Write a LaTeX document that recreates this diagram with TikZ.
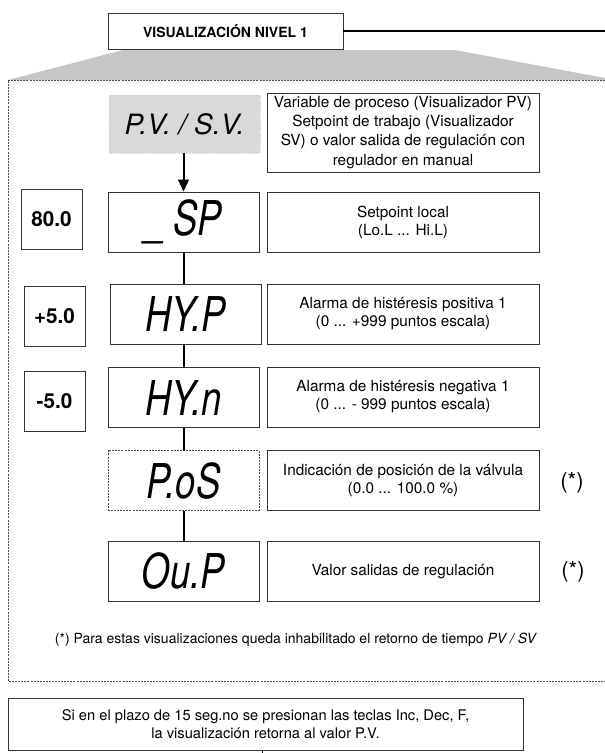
\documentclass[tikz,border=0pt]{standalone}
\usepackage{fontspec}
\setmainfont{TeX Gyre Heros}
\newfontfamily\segfont{TeX Gyre Heros}[FakeStretch=0.76]
\usetikzlibrary{arrows.meta}

\definecolor{grisfondo}{RGB}{198,198,198}
\definecolor{grispv}{RGB}{217,217,217}

\tikzset{
    caja/.style={draw=black!80, line width=0.6pt, inner sep=0pt, align=center},
    visor/.style={caja, minimum width=113.25pt, minimum height=45pt,
        font=\segfont\itshape\fontsize{36}{36}\selectfont},
    desc/.style={caja, minimum width=204pt, minimum height=45pt,
        font=\fontsize{11.5}{13.6}\selectfont},
    valor/.style={caja, minimum width=45.75pt, minimum height=45pt,
        font=\bfseries\fontsize{15.5}{16}\selectfont},
    nota/.style={font=\fontsize{16.5}{17}\selectfont},
    enlace/.style={line width=1.5pt},
    marco/.style={black!70, line width=0.5pt, dash pattern=on 1.5pt off 0.8pt}
}

\begin{document}
\begin{tikzpicture}[x=0.75pt, y=-0.75pt]
    \useasboundingbox (0,0) rectangle (605,753);

    % Cabecera
    \fill[grisfondo] (8,80) -- (123,50) -- (455,50) -- (605,78) -- (605,80) -- cycle;
    \node[caja, fill=white, minimum width=176.25pt, minimum height=27pt,
        font=\bfseries\fontsize{10.5}{12}\selectfont] (titulo) at (225.5,31) {VISUALIZACIÓN NIVEL 1};
    \coordinate (borde) at (605,31);
    \draw[line width=1.5pt] (titulo.east) -- (borde);

    % Marco punteado
    \draw[marco] (605,80) -- (8,80) -- (8,681) -- (605,681);

    % P.V. / S.V.
    \node[caja, draw=black!20, densely dotted, fill=grispv, minimum width=113.25pt, minimum height=43.5pt,
        font=\itshape\fontsize{21}{22}\selectfont] (pv) at (184.5,124) {P.V. / S.V.};
    \node[desc, minimum height=59.25pt, font=\fontsize{11.5}{14.3}\selectfont] (dpv) at (403,132.5)
        {Variable de proceso (Visualizador PV)\\Setpoint de trabajo (Visualizador\\SV) o valor salida de regulación con\\regulador en manual};

    % Visores
    \node[visor] (sp) at (183.5,222) {\_\,SP};
    \node[visor] (hyp) at (185.5,314) {HY.P};
    \node[visor] (hyn) at (183.5,397.5) {HY.n};
    \node[visor, marco, text=black] (pos) at (183.5,480.5) {P.oS};
    \node[visor] (oup) at (183.5,571) {Ou.P};

    % Valores
    \node[valor] (v80) at (51.5,219) {80.0};
    \node[valor] (vmas) at (54.5,316) {+5.0};
    \node[valor] (vmenos) at (54.5,401) {-5.0};

    % Descripciones
    \node[desc] (dsp) at (403,222) {Setpoint local\\(Lo.L ... Hi.L)};
    \node[desc] (dhyp) at (403,314) {Alarma de histéresis positiva 1\\(0 ... +999 puntos escala)};
    \node[desc] (dhyn) at (403,397) {Alarma de histéresis negativa 1\\(0 ... - 999 puntos escala)};
    \node[desc] (dpos) at (403,480.5) {Indicación de posición de la válvula\\(0.0 ... 100.0 \%)};
    \node[desc] (doup) at (403,571.5) {Valor salidas de regulación};
    \node[nota] (ast1) at (572,483) {(*)};
    \node[nota] (ast2) at (573,572) {(*)};

    % Enlaces
    \draw[enlace, -{Triangle[length=9pt, width=8pt]}] (pv.south -| sp) -- (sp.north);
    \draw[enlace] (sp.south) -- (sp.south |- hyp.north);
    \draw[enlace] (sp.south |- hyp.south) -- (hyn.north);
    \draw[enlace] (hyn.south) -- (pos.north);
    \draw[enlace] (pos.south) -- (oup.north);

    % Nota
    \node[font=\fontsize{10.5}{12}\selectfont] (pie) at (296,640)
        {(*) Para estas visualizaciones queda inhabilitado el retorno de tiempo \textit{PV / SV}};

    % Retorno
    \node[caja, minimum width=386.25pt, minimum height=39pt, font=\fontsize{11}{13}\selectfont] (fondo) at (265.5,724)
        {Si en el plazo de 15 seg.no se presionan las teclas Inc, Dec, F,\\la visualización retorna al valor P.V.};
    \coordinate (fin) at (262,756);
    \draw[line width=0.6pt] (fondo.south -| fin) -- (fin);
\end{tikzpicture}
\end{document}
